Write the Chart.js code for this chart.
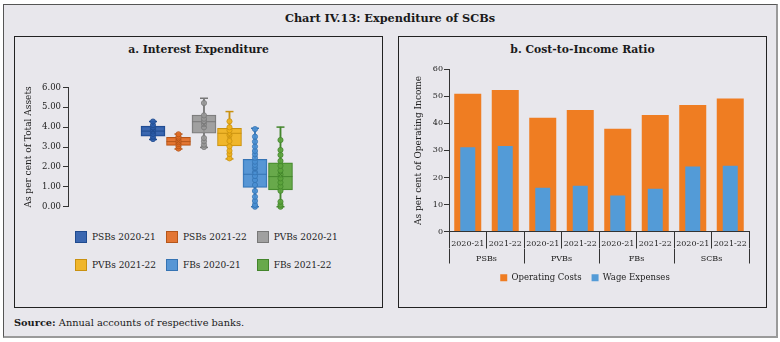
<!DOCTYPE html>
<html><head><meta charset="utf-8">
<script src="https://cdn.jsdelivr.net/npm/chart.js@4.4.1/dist/chart.umd.min.js"></script>
<style>
html,body{margin:0;padding:0;background:#fff;}
body{width:780px;height:342px;position:relative;overflow:hidden;font-family:"DejaVu Serif",serif;color:#1a1a1a;}
#frame{position:absolute;left:3px;top:4px;width:775px;height:334px;box-sizing:border-box;background:#E8E7EC;border-left:1px solid #555;border-top:1px solid #555;border-right:2px solid #9a9a9a;border-bottom:2px solid #9a9a9a;}
.panel{position:absolute;top:36px;height:272px;width:369px;box-sizing:border-box;border:1.5px solid #222;}
.t{position:absolute;white-space:nowrap;line-height:14px;}
.cw{position:absolute;}
.lg{position:absolute;white-space:nowrap;font-size:9px;line-height:12px;color:#222;}
.sq{position:absolute;width:12px;height:12px;box-sizing:border-box;}
</style></head>
<body>
<div id="frame"></div>
<div class="t" style="left:0;width:780px;top:11px;text-align:center;font-weight:bold;font-size:11.3px;">Chart IV.13: Expenditure of SCBs</div>
<div class="panel" style="left:14px;"></div>
<div class="panel" style="left:398px;"></div>
<div class="t" style="left:14px;width:369px;top:43px;text-align:center;font-weight:bold;font-size:10.8px;">a. Interest Expenditure</div>
<div class="t" style="left:398px;width:369px;top:43px;text-align:center;font-weight:bold;font-size:10.8px;">b. Cost-to-Income Ratio</div>
<div class="cw" style="left:15px;top:60px;width:367px;height:160px;"><canvas id="c1" width="367" height="160"></canvas></div>
<div class="cw" style="left:399px;top:62px;width:367px;height:230px;"><canvas id="c2" width="367" height="230"></canvas></div>
<div id="leftLegend"></div>
<div class="t" style="left:14px;top:316px;font-size:9.8px;"><b>Source:</b> Annual accounts of respective banks.</div>
<script>
// ---- Panel a: box plots (per cent of total assets)
const boxLabels = ['PSBs 2020-21','PSBs 2021-22','PVBs 2020-21','PVBs 2021-22','FBs 2020-21','FBs 2021-22'];
const boxMin    = [3.38, 2.90, 2.98, 2.40, 0.00, 0.00];
const boxQ1     = [3.55, 3.08, 3.69, 3.05, 0.97, 0.84];
const boxMedian = [3.80, 3.27, 4.27, 3.69, 1.63, 1.51];
const boxQ3     = [4.05, 3.49, 4.61, 3.94, 2.38, 2.21];
const boxMax    = [4.28, 3.65, 5.45, 4.78, 3.94, 4.00];
const boxMean   = [3.82, 3.28, 4.12, 3.55, 1.82, 1.62];
const psb2021Points = [3.40, 3.52, 3.66, 3.78, 3.88, 3.98, 4.10, 4.28];
const psb2122Points = [2.92, 3.04, 3.15, 3.24, 3.32, 3.42, 3.52, 3.64];
const pvb2021Points = [3.00, 3.12, 3.29, 3.45, 3.99, 4.16, 4.30, 4.42, 4.59, 5.21];
const pvb2122Points = [2.43, 2.65, 2.81, 3.03, 3.30, 3.60, 3.84, 3.99, 4.29];
const fb2021Points  = [0.00, 0.09, 0.29, 0.50, 0.79, 1.09, 1.34, 1.54, 1.73, 1.93, 2.10, 2.26, 2.46, 2.63, 2.80, 3.02, 3.27, 3.52, 3.90];
const fb2122Points  = [0.00, 0.10, 0.25, 0.80, 1.02, 1.22, 1.42, 1.62, 1.82, 2.05, 2.30, 2.60, 2.85, 3.35];
const leftTickValues = [0, 1, 2, 3, 4, 5, 6];

// ---- Panel b: cost-to-income ratio
const yearLabels  = ['2020-21','2021-22','2020-21','2021-22','2020-21','2021-22','2020-21','2021-22'];
const groupLabels = ['PSBs','PVBs','FBs','SCBs'];
const operatingCosts = [51.0, 52.3, 42.1, 44.9, 38.0, 43.1, 46.8, 49.2];
const wageExpenses   = [31.2, 31.6, 16.2, 16.9, 13.3, 15.8, 24.0, 24.3];
const rightTickValues = [0, 10, 20, 30, 40, 50, 60];

const FONT = '"DejaVu Serif", serif';
Chart.defaults.font.family = FONT;
Chart.defaults.color = '#222';
Chart.defaults.animation = false;
Chart.defaults.events = [];
Chart.defaults.plugins.tooltip.enabled = false;

const pointSets = [psb2021Points, psb2122Points, pvb2021Points, pvb2122Points, fb2021Points, fb2122Points];
const fills = ['rgba(43,92,170,0.92)','rgba(226,108,36,0.92)','rgba(152,152,152,0.9)','rgba(240,178,26,0.92)','rgba(74,143,211,0.92)','rgba(92,164,61,0.92)'];
const edges = ['#1F4A8E','#B5561A','#787878','#C99110','#3573B3','#43852C'];

const ds1 = [];
boxLabels.forEach((label, i) => {
  const x = i + 1;
  ds1.push({type:'bar', label, data:[{x, y:[boxMin[i], boxMax[i]]}], backgroundColor: edges[i], barThickness:1.2, grouped:false, order:6, clip:false});
  ds1.push({type:'bar', label, data:[{x, y:[boxQ1[i], boxQ3[i]]}], backgroundColor: fills[i], borderColor: edges[i], borderWidth:1, borderSkipped:false, barThickness:24, grouped:false, order:5, clip:false});
  ds1.push({type:'scatter', data:[{x, y:boxMin[i]}, {x, y:boxMax[i]}], pointStyle:'line', pointRadius:4, pointBorderColor: edges[i], pointBorderWidth:1.5, order:4, clip:false});
  ds1.push({type:'scatter', data:[{x, y:boxMedian[i]}], pointStyle:'line', pointRadius:12, pointBorderColor: edges[i], pointBorderWidth:1, order:3, clip:false});
  ds1.push({type:'scatter', data: pointSets[i].map(v => ({x, y:v})), pointStyle:'circle', pointRadius:2.6, pointBackgroundColor: fills[i], pointBorderColor: edges[i], pointBorderWidth:0.8, order:2, clip:false});
  ds1.push({type:'scatter', data:[{x, y:boxMean[i]}], pointStyle:'crossRot', pointRadius:3.5, pointBorderColor: edges[i], pointBorderWidth:1, order:1, clip:false});
});

new Chart(document.getElementById('c1'), {
  type: 'bar',
  data: { datasets: ds1 },
  options: {
    responsive: false,
    layout: { padding: { top: 27.3, bottom: 13.3, left: 0, right: 18 } },
    plugins: { legend: { display: false } },
    scales: {
      x: { type: 'linear', display: false, offset: false, grid: { offset: false }, min: -2.333, max: 9.275 },
      y: {
        min: leftTickValues[0], max: leftTickValues[leftTickValues.length - 1],
        afterBuildTicks: s => { s.ticks = leftTickValues.map(v => ({value: v})); },
        afterFit: s => { s.width = 53; },
        ticks: { callback: v => Number(v).toFixed(2), padding: 2, font: { size: 8.5 }, color: '#222' },
        grid: { drawOnChartArea: false, drawTicks: true, tickLength: 5, color: '#333' },
        border: { display: true, color: '#333', width: 1 },
        title: { display: true, text: 'As per cent of Total Assets', font: { size: 9 }, padding: { top: 8, bottom: 0 }, color: '#222' }
      }
    }
  }
});

// HTML legend for panel a (3 columns x 2 rows)
(function(){
  const host = document.getElementById('leftLegend');
  const cols = [75, 166, 256.7], rows = [237, 265];
  boxLabels.forEach((label, i) => {
    const cx = cols[i % 3], cy = rows[Math.floor(i / 3)];
    const sq = document.createElement('div');
    sq.className = 'sq';
    sq.style.left = cx + 'px'; sq.style.top = (cy - 6) + 'px';
    sq.style.background = fills[i]; sq.style.border = '1px solid ' + edges[i];
    host.appendChild(sq);
    const tx = document.createElement('div');
    tx.className = 'lg';
    tx.style.left = (cx + 17) + 'px'; tx.style.top = (cy - 6) + 'px';
    tx.textContent = label;
    host.appendChild(tx);
  });
})();

const shiftLegend = {
  id: 'shiftLegend',
  afterLayout(chart, args, opts) {
    const l = chart.legend;
    if (l && opts && opts.dx) { l.left += opts.dx; l.right += opts.dx; }
  }
};

new Chart(document.getElementById('c2'), {
  type: 'bar',
  data: {
    labels: yearLabels,
    datasets: [
      { label: 'Operating Costs', data: operatingCosts, backgroundColor: '#EF7D22', barPercentage: 0.72, categoryPercentage: 1, grouped: false, order: 2 },
      { label: 'Wage Expenses', data: wageExpenses, backgroundColor: '#539BD7', barPercentage: 0.4, categoryPercentage: 1, grouped: false, order: 1 }
    ]
  },
  plugins: [shiftLegend],
  options: {
    responsive: false,
    layout: { padding: { top: 7.3, bottom: 0, left: 0, right: 17 } },
    plugins: {
      shiftLegend: { dx: 11 },
      legend: {
        position: 'bottom',
        labels: { boxWidth: 7, boxHeight: 7, padding: 10, font: { size: 8.5 }, color: '#222', sort: (a, b) => a.datasetIndex - b.datasetIndex }
      }
    },
    scales: {
      x: {
        type: 'category', offset: true, weight: 0,
        grid: { offset: true, drawOnChartArea: false, drawTicks: true, tickLength: 17, color: '#333' },
        border: { display: true, color: '#333' },
        ticks: { padding: -9, maxRotation: 0, autoSkip: false, font: { size: 8 }, color: '#222' },
        afterFit: s => { s.height = 17; }
      },
      x2: {
        type: 'category', labels: groupLabels, position: 'bottom', offset: true, weight: 1,
        grid: { offset: true, drawOnChartArea: false, drawTicks: true, tickLength: 15, color: '#333' },
        border: { display: false },
        ticks: { padding: -9, maxRotation: 0, autoSkip: false, font: { size: 8 }, color: '#222' },
        afterFit: s => { s.height = 15; }
      },
      y: {
        min: rightTickValues[0], max: rightTickValues[rightTickValues.length - 1],
        afterBuildTicks: s => { s.ticks = rightTickValues.map(v => ({value: v})); },
        afterFit: s => { s.width = 50; },
        ticks: { padding: 1, font: { size: 8 }, color: '#222' },
        grid: { drawOnChartArea: false, drawTicks: true, tickLength: 5, color: '#333' },
        border: { display: true, color: '#333', width: 1 },
        title: { display: true, text: 'As per cent of Operating Income', font: { size: 9 }, padding: { top: 14, bottom: 0 }, color: '#222' }
      }
    }
  }
});
</script>
</body></html>
